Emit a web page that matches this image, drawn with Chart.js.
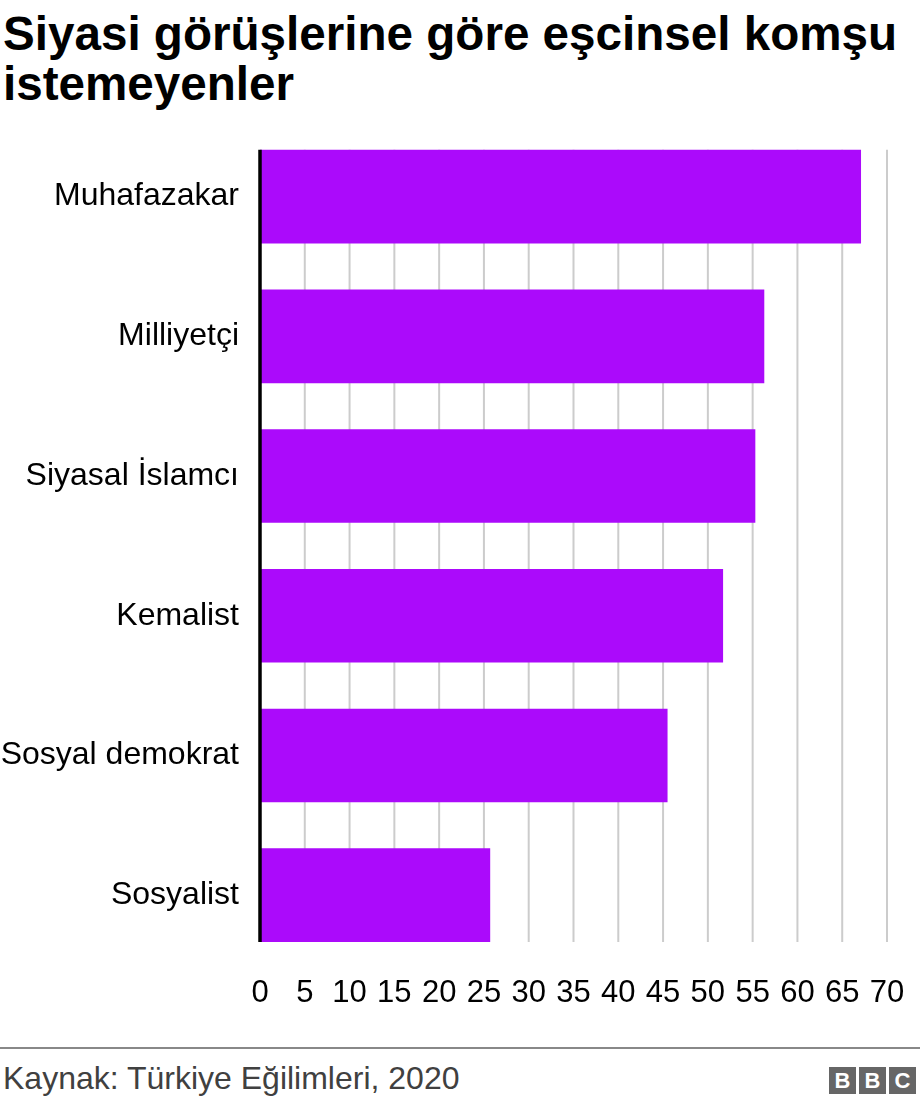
<!DOCTYPE html>
<html><head><meta charset="utf-8">
<script src="https://cdn.jsdelivr.net/npm/chart.js@4"></script>
<style>
body{margin:0;background:#fff;font-family:"Liberation Sans",Arial,sans-serif;}
#title{position:absolute;left:3px;top:9px;font-weight:bold;font-size:47.6px;line-height:50px;color:#000;margin:0;width:915px}
#wrap{position:absolute;left:0;top:105px;width:920px;height:920px}
#rule{position:absolute;left:0;top:1047px;width:920px;height:2px;background:#888}
#source{position:absolute;left:3px;top:1058px;font-size:32px;color:#404040;line-height:40px}
#logo{position:absolute;left:829px;top:1067px;display:flex;gap:3px}
#logo span{width:27px;height:27px;background:#666;color:#fff;font-weight:bold;font-size:22px;line-height:27px;text-align:center}
</style></head>
<body>
<div id="title">Siyasi görüşlerine göre eşcinsel komşu istemeyenler</div>
<div id="wrap"><canvas id="c" width="920" height="920"></canvas></div>
<div id="rule"></div>
<div id="source">Kaynak: Türkiye Eğilimleri, 2020</div>
<div id="logo"><span>B</span><span>B</span><span>C</span></div>
<script>
const categories = ["Muhafazakar", "Milliyetçi", "Siyasal İslamcı", "Kemalist", "Sosyal demokrat", "Sosyalist"];
const values = [67.1, 56.3, 55.3, 51.7, 45.5, 25.7];
const xTicks = [0, 5, 10, 15, 20, 25, 30, 35, 40, 45, 50, 55, 60, 65, 70];

const FONT = "'Liberation Sans', Arial, sans-serif";

const gridPlugin = {
  id: 'customGrid',
  beforeDatasetsDraw(chart) {
    const bars = chart.getDatasetMeta(0).data;
    let top = Infinity, bottom = -Infinity;
    bars.forEach(b => { top = Math.min(top, b.y - b.height / 2); bottom = Math.max(bottom, b.y + b.height / 2); });
    const ctx = chart.ctx, xs = chart.scales.x;
    ctx.save();
    ctx.strokeStyle = '#cccccc';
    ctx.lineWidth = 2;
    xTicks.forEach(v => {
      if (v === 0) return;
      const x = xs.getPixelForValue(v);
      ctx.beginPath(); ctx.moveTo(x, top); ctx.lineTo(x, bottom); ctx.stroke();
    });
    ctx.restore();
    chart.$gridExtent = [top, bottom];
  },
  afterDatasetsDraw(chart) {
    const [top, bottom] = chart.$gridExtent;
    const ctx = chart.ctx, x = chart.scales.x.getPixelForValue(0);
    ctx.save();
    ctx.strokeStyle = '#000';
    ctx.lineWidth = 3.5;
    ctx.beginPath(); ctx.moveTo(x, top); ctx.lineTo(x, bottom); ctx.stroke();
    ctx.restore();
  }
};

new Chart(document.getElementById('c'), {
  type: 'bar',
  data: {
    labels: categories,
    datasets: [{ data: values, backgroundColor: '#ab0afb', borderWidth: 0, barPercentage: 0.67, categoryPercentage: 1 }]
  },
  options: {
    indexAxis: 'y',
    responsive: false,
    animation: false,
    layout: { padding: { top: 0.85, right: 33, left: 0, bottom: 0 } },
    plugins: { legend: { display: false }, tooltip: { enabled: false } },
    scales: {
      x: {
        min: 0, max: 70,
        afterBuildTicks: s => { s.ticks = xTicks.map(v => ({ value: v })); },
        afterFit: s => { s.height = 60; },
        grid: { display: false, drawTicks: false },
        border: { display: false },
        ticks: { color: '#000', font: { family: FONT, size: 31 }, padding: 10, maxRotation: 0, autoSkip: false }
      },
      y: {
        afterFit: s => { s.width = 260; },
        grid: { display: false, drawTicks: false },
        border: { display: false },
        ticks: { color: '#000', font: { family: FONT, size: 32, lineHeight: 0.05 }, padding: 21 }
      }
    }
  },
  plugins: [gridPlugin]
});
</script>
</body></html>
